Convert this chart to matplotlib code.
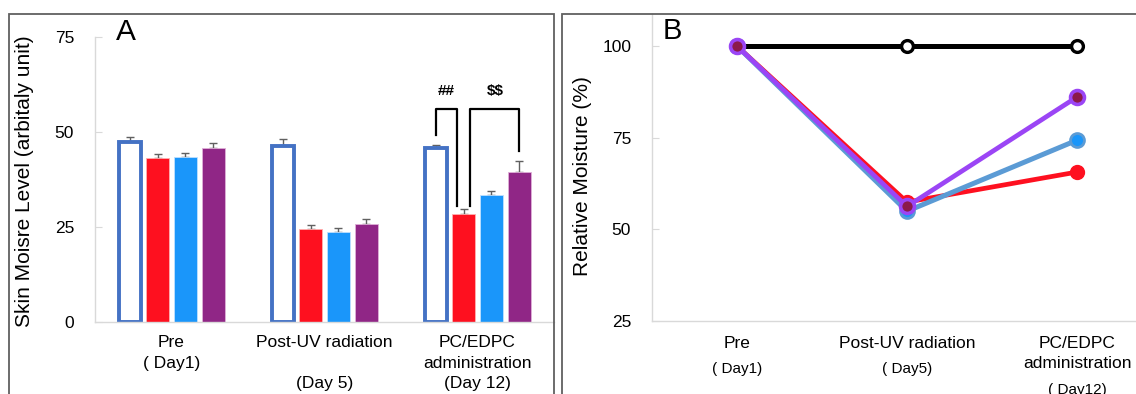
import matplotlib.pyplot as plt
import numpy as np
from matplotlib.patches import Rectangle

plt.rcParams['font.family'] = ['Liberation Sans', 'DejaVu Sans']

# Panel A: skin moisture level (bars)
groups_a = ["Pre\n( Day1)", "Post-UV radiation\n\n(Day 5)", "PC/EDPC\nadministration\n(Day 12)"]
normal = [47.4, 46.4, 45.7]
uv_only = [43.2, 24.6, 28.4]
pc = [43.4, 23.8, 33.5]
edpc = [45.9, 25.8, 39.4]
err_normal = [1.3, 1.7, 1.0]
err_uv = [1.0, 0.8, 1.4]
err_pc = [1.2, 1.0, 1.0]
err_edpc = [1.1, 1.3, 3.0]

# Panel B: relative moisture (%)
days_b = ["Pre", "Post-UV radiation", "PC/EDPC\nadministration"]
days_sub = ["( Day1)", "( Day5)", "( Day12)"]
rel_normal = [100, 100, 100]
rel_uv = [100, 57.4, 65.6]
rel_pc = [100, 54.9, 74.3]
rel_edpc = [100, 56.2, 86.1]

W, H = 1136, 394
fig = plt.figure(figsize=(W / 100, H / 100), dpi=100)

def px_axes(x0, x1, ytop, ybot):
    return fig.add_axes([x0 / W, (H - ybot) / H, (x1 - x0) / W, (ybot - ytop) / H])

# panel boxes
fig.add_artist(Rectangle((9 / W, -0.2), (554 - 9) / W, (H - 14) / H + 0.2,
                         transform=fig.transFigure, fill=False, ec='#606060', lw=1.3))
fig.add_artist(Rectangle((562 / W, -0.2), 0.6, (H - 14) / H + 0.2,
                         transform=fig.transFigure, fill=False, ec='#606060', lw=1.3))

def style(ax):
    for s in ['top', 'right']:
        ax.spines[s].set_visible(False)
    for s in ['left', 'bottom']:
        ax.spines[s].set_color('#d9d9d9')
        ax.spines[s].set_linewidth(1)
    ax.tick_params(axis='y', direction='in', length=5, color='#d9d9d9', labelsize=12.5, pad=15)
    ax.tick_params(axis='x', length=0, labelbottom=False)

def xlabel_line(ax, xpos, text, off, size=12.5):
    ax.annotate(text, xy=(xpos, 0), xycoords=ax.get_xaxis_transform(), xytext=(0, off),
                textcoords='offset pixels', ha='center', va='center', fontsize=size)

# ---------- A ----------
ax = px_axes(95, 554, 37, 322)
style(ax)
x = np.arange(3)
pitch, width = 0.182, 0.152
series = [(normal, err_normal), (uv_only, err_uv), (pc, err_pc), (edpc, err_edpc)]
colors = ['white', '#fe101f', '#1a96fa', '#902686']
edges = ['#4472c4', '#ffb0b0', '#bfe0ff', '#e0b0d8']
for k, ((vals, errs), c, e) in enumerate(zip(series, colors, edges)):
    xs = x + (k - 1.5) * pitch
    if k == 0:
        ax.bar(xs, vals, width * 0.95, color='white', edgecolor='#4472c4', linewidth=2.8, zorder=2)
    else:
        ax.bar(xs, vals, width, color=c, edgecolor=e, linewidth=0.6, zorder=2)
    ax.errorbar(xs, vals, yerr=[np.zeros(3), errs], fmt='none', ecolor='#606060',
                elinewidth=1, capsize=3, capthick=1, zorder=1)
ax.set_xlim(-0.5, 2.5)
ax.set_ylim(0, 75)
ax.set_yticks([0, 25, 50, 75])
fig.text(25 / W, 1 - 181 / H, "Skin Moisre Level (arbitaly unit)", rotation=90, fontsize=15,
         ha='center', va='center')
ax.text(0.0675, 0.9895, "A", transform=ax.transAxes, fontsize=21.5, ha='center', va='baseline')
line_offs_a = [-20.5, -41.5, -61.5]
for i, lab in enumerate(groups_a):
    for j, line in enumerate(lab.split("\n")):
        if line:
            xlabel_line(ax, i, line, line_offs_a[j])

# significance brackets on day 12
g = 2
xw = g - 1.5 * pitch
xr = g - 0.5 * pitch
xp = g + 1.5 * pitch
top = 56
ax.plot([xw, xw, xr - 0.04, xr - 0.04], [normal[g] + 3.5, top, top, uv_only[g] + 2],
        color='black', lw=1.6)
ax.plot([xr + 0.045, xr + 0.045, xp, xp], [uv_only[g] + 2, top, top, edpc[g] + 5.7],
        color='black', lw=1.6)
ax.text((xw + xr - 0.04) / 2, 60.8, "##", ha='center', va='center', fontsize=11, fontweight='bold')
ax.text((xr + 0.045 + xp) / 2, 60.8, r"\$\$", ha='center', va='center', fontsize=11, fontweight='bold')

# ---------- B ----------
bx = px_axes(652, 1162, 14, 320.7)
style(bx)
xb_ = np.arange(3)
bx.plot(xb_, rel_normal, color='black', lw=3.6, marker='o', ms=8.5, mfc='white', mec='black',
        mew=2.4, zorder=3)
bx.plot(xb_, rel_uv, color='#fe1020', lw=3.4, marker='o', ms=10, mfc='#fe1020', mec='#fe1020',
        zorder=4)
bx.plot(xb_, rel_pc, color='#5b9bd5', lw=3.6, marker='o', ms=10, mfc='#1a96fa', mec='#5b9bd5',
        mew=2, zorder=5)
bx.plot(xb_, rel_edpc, color='#9b45f5', lw=3.4, marker='o', ms=10, mfc='#8b1a4a', mec='#9b45f5',
        mew=2.6, zorder=6)
bx.set_xlim(-0.5, 2.5)
bx.set_ylim(25, 108.76)
bx.set_yticks([25, 50, 75, 100])
bx.text(0.039, 0.9175, "B", transform=bx.transAxes, fontsize=21, ha='center', va='baseline')
fig.text(582 / W, 1 - 176 / H, "Relative Moisture (%)", rotation=90, fontsize=15,
         ha='center', va='center')
for i, (lab, sub) in enumerate(zip(days_b, days_sub)):
    for j, line in enumerate(lab.split("\n")):
        xlabel_line(bx, i, line, -22.3 - 20.5 * j)
    xlabel_line(bx, i, sub, -69.3 if i == 2 else -48.3, size=11)

fig.savefig("out.png", dpi=100)
